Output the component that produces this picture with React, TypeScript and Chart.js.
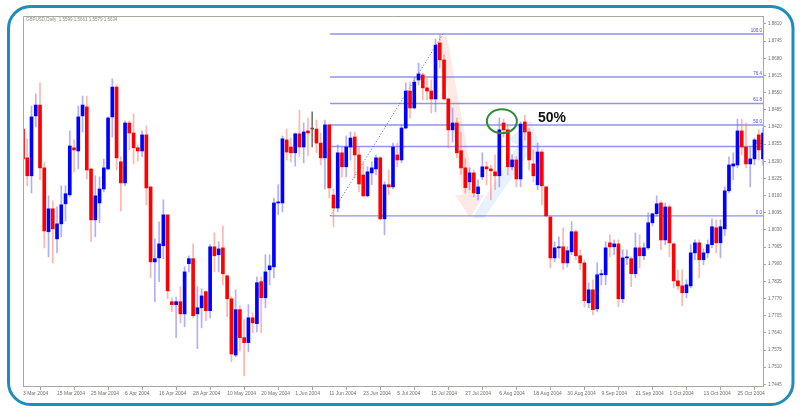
import React, { useEffect, useRef } from "react";
import { Chart, registerables } from "chart.js";
Chart.register(...registerables);

const OPEN = [1.8412,1.8303,1.8235,1.8462,1.8503,1.8265,1.8023,1.8110,1.7996,1.8053,1.8129,1.8163,1.8341,1.8329,1.8462,1.8496,1.8261,1.8068,1.8132,1.8185,1.8261,1.8458,1.8571,1.8288,1.8208,1.8435,1.8397,1.8341,1.8329,1.8390,1.8193,1.7909,1.7924,1.7970,1.8087,1.7758,1.7747,1.7758,1.7712,1.7902,1.7921,1.7712,1.7735,1.7796,1.7724,1.7966,1.7936,1.7962,1.7856,1.7769,1.7556,1.7728,1.7622,1.7603,1.7697,1.7675,1.7834,1.7773,1.7879,1.7890,1.8132,1.8132,1.8371,1.8344,1.8322,1.8394,1.8344,1.8405,1.8412,1.8412,1.8359,1.8303,1.8428,1.8162,1.8113,1.8322,1.8269,1.8344,1.8382,1.8314,1.8238,1.8159,1.8246,1.8261,1.8303,1.8072,1.8201,1.8193,1.8314,1.8295,1.8416,1.8556,1.8492,1.8598,1.8617,1.8568,1.8556,1.8526,1.8738,1.8674,1.8526,1.8409,1.8435,1.8330,1.8265,1.8212,1.8246,1.8167,1.8231,1.8269,1.8261,1.8250,1.8235,1.8435,1.8409,1.8269,1.8295,1.8223,1.8439,1.8401,1.8280,1.8201,1.8325,1.8193,1.8079,1.7924,1.7962,1.7966,1.7905,1.7947,1.8023,1.7932,1.7905,1.7754,1.7803,1.7731,1.7860,1.7860,1.7981,1.7966,1.7977,1.7769,1.7924,1.7921,1.7864,1.7962,1.7932,1.7962,1.8057,1.8091,1.8132,1.7992,1.8117,1.7977,1.7837,1.7818,1.7792,1.7818,1.7943,1.7981,1.7917,1.7943,1.7974,1.8038,1.7981,1.8034,1.8178,1.8272,1.8276,1.8405,1.8344,1.8280,1.8299,1.8390,1.8299];
const HIGH = [1.8412,1.8375,1.8499,1.8545,1.8587,1.8284,1.8159,1.8140,1.8117,1.8197,1.8197,1.8405,1.8371,1.8499,1.8537,1.8537,1.8261,1.8235,1.8231,1.8299,1.8458,1.8602,1.8579,1.8307,1.8443,1.8443,1.8469,1.8352,1.8405,1.8424,1.8193,1.7996,1.8061,1.8144,1.8087,1.7773,1.7776,1.7815,1.7890,1.7932,1.7977,1.7815,1.7807,1.7799,1.7974,1.8019,1.7985,1.8045,1.7860,1.7777,1.7803,1.7743,1.7690,1.7747,1.7716,1.7852,1.7852,1.7936,1.7936,1.8151,1.8201,1.8386,1.8412,1.8378,1.8397,1.8484,1.8435,1.8454,1.8477,1.8446,1.8397,1.8446,1.8431,1.8185,1.8352,1.8344,1.8386,1.8401,1.8401,1.8344,1.8284,1.8269,1.8288,1.8314,1.8307,1.8212,1.8257,1.8359,1.8359,1.8428,1.8587,1.8590,1.8609,1.8662,1.8624,1.8605,1.8598,1.8753,1.8772,1.8693,1.8530,1.8492,1.8454,1.8400,1.8300,1.8265,1.8257,1.8220,1.8322,1.8288,1.8276,1.8314,1.8454,1.8450,1.8428,1.8314,1.8307,1.8439,1.8465,1.8416,1.8333,1.8359,1.8333,1.8193,1.8083,1.7985,1.8004,1.8038,1.7966,1.8061,1.8030,1.7955,1.7917,1.7830,1.7841,1.7905,1.7879,1.7985,1.8011,1.7992,1.7992,1.7955,1.7955,1.7928,1.8019,1.8011,1.7981,1.8094,1.8094,1.8159,1.8140,1.8132,1.8125,1.7981,1.7879,1.7879,1.7841,1.7974,1.7992,1.7992,1.7958,1.7992,1.8072,1.8068,1.8068,1.8193,1.8307,1.8322,1.8450,1.8450,1.8435,1.8344,1.8378,1.8409,1.8416];
const LOW = [1.8155,1.8197,1.8170,1.8420,1.8220,1.7962,1.7928,1.7905,1.7943,1.8004,1.8064,1.8155,1.8250,1.8261,1.8401,1.8223,1.7985,1.8004,1.8057,1.8174,1.8257,1.8382,1.8257,1.8102,1.8197,1.8333,1.8280,1.8291,1.8307,1.8125,1.7849,1.7758,1.7834,1.7921,1.7769,1.7720,1.7622,1.7678,1.7663,1.7871,1.7697,1.7580,1.7659,1.7686,1.7697,1.7871,1.7871,1.7822,1.7701,1.7530,1.7549,1.7571,1.7477,1.7568,1.7641,1.7644,1.7641,1.7735,1.7822,1.7849,1.8087,1.8098,1.8295,1.8288,1.8272,1.8310,1.8284,1.8310,1.8344,1.8322,1.8276,1.8185,1.8151,1.8042,1.8098,1.8231,1.8231,1.8295,1.8227,1.8174,1.8155,1.8155,1.8201,1.8238,1.8068,1.8011,1.8163,1.8185,1.8269,1.8284,1.8412,1.8454,1.8488,1.8579,1.8522,1.8522,1.8473,1.8477,1.8643,1.8522,1.8341,1.8363,1.8303,1.8240,1.8170,1.8182,1.8155,1.8144,1.8220,1.8201,1.8144,1.8182,1.8193,1.8382,1.8238,1.8257,1.8193,1.8193,1.8371,1.8257,1.8212,1.8182,1.8125,1.8079,1.7886,1.7909,1.7924,1.7879,1.7890,1.7936,1.7917,1.7879,1.7739,1.7735,1.7709,1.7720,1.7822,1.7822,1.7928,1.7936,1.7739,1.7754,1.7898,1.7815,1.7849,1.7886,1.7917,1.7955,1.8045,1.8083,1.7955,1.7974,1.7928,1.7811,1.7803,1.7743,1.7773,1.7811,1.7917,1.7849,1.7898,1.7924,1.7962,1.7943,1.7924,1.8008,1.8170,1.8220,1.8265,1.8314,1.8265,1.8193,1.8276,1.8295,1.8276];
const CLOSE = [1.8299,1.8235,1.8458,1.8503,1.8265,1.8026,1.8110,1.8034,1.8053,1.8125,1.8167,1.8348,1.8333,1.8458,1.8503,1.8257,1.8068,1.8159,1.8185,1.8265,1.8454,1.8571,1.8303,1.8208,1.8435,1.8397,1.8341,1.8329,1.8390,1.8189,1.7909,1.7921,1.7977,1.8087,1.7799,1.7747,1.7758,1.7712,1.7871,1.7921,1.7705,1.7735,1.7780,1.7724,1.7966,1.7932,1.7958,1.7864,1.7769,1.7560,1.7728,1.7622,1.7603,1.7697,1.7678,1.7830,1.7773,1.7871,1.7894,1.8132,1.8136,1.8375,1.8325,1.8322,1.8394,1.8344,1.8401,1.8397,1.8412,1.8359,1.8303,1.8428,1.8189,1.8113,1.8322,1.8269,1.8344,1.8378,1.8314,1.8204,1.8159,1.8250,1.8265,1.8303,1.8072,1.8201,1.8193,1.8344,1.8295,1.8416,1.8556,1.8492,1.8590,1.8621,1.8568,1.8556,1.8526,1.8730,1.8674,1.8526,1.8409,1.8435,1.8322,1.8265,1.8190,1.8246,1.8170,1.8193,1.8269,1.8261,1.8254,1.8235,1.8409,1.8409,1.8269,1.8295,1.8223,1.8431,1.8401,1.8295,1.8235,1.8325,1.8197,1.8083,1.7924,1.7962,1.7966,1.7905,1.7951,1.8023,1.7932,1.7905,1.7762,1.7803,1.7728,1.7860,1.7864,1.7962,1.7966,1.7977,1.7769,1.7924,1.7928,1.7864,1.7962,1.7932,1.7962,1.8057,1.8091,1.8129,1.7992,1.8117,1.7981,1.7837,1.7818,1.7792,1.7822,1.7943,1.7981,1.7917,1.7943,1.7974,1.8042,1.7981,1.8042,1.8178,1.8276,1.8280,1.8405,1.8344,1.8280,1.8299,1.8371,1.8333,1.8397];

const TICK_LABELS = ["3 Mar 2004","15 Mar 2004","25 Mar 2004","6 Apr 2004","16 Apr 2004","28 Apr 2004","10 May 2004","20 May 2004","1 Jun 2004","11 Jun 2004","23 Jun 2004","5 Jul 2004","15 Jul 2004","27 Jul 2004","6 Aug 2004","18 Aug 2004","30 Aug 2004","9 Sep 2004","21 Sep 2004","1 Oct 2004","13 Oct 2004","25 Oct 2004"];
const Y_TICKS = [1.7445,1.7510,1.7575,1.7640,1.7705,1.7770,1.7835,1.7900,1.7965,1.8030,1.8095,1.8160,1.8225,1.8290,1.8355,1.8420,1.8485,1.8550,1.8615,1.8680,1.8745,1.8810];
const Y_MIN = 1.74387;
const Y_MAX = 1.88403;

const FIB_LEVELS = [0, 38.2, 50, 61.8, 76.4, 100];
const FIB_LABELS = ["0.0", "38.2", "50.0", "61.8", "76.4", "100.0"];
const FIB_LOW = 1.8083;
const FIB_HIGH = 1.8772;
const FIB_LOW_INDEX = 72.2;
const FIB_HIGH_INDEX = 98.75;

const TITLE = "GBPUSD,Daily  1.5599 1.5661 1.5579 1.5634";
const NOTE = "50%";

const BLUE = "#0000ff";
const RED = "#ff0000";

function bodyColor(i: number) {
  if (CLOSE[i] > OPEN[i]) return BLUE;
  if (CLOSE[i] < OPEN[i]) return RED;
  return "#555555";
}
function wickColor(i: number) {
  if (CLOSE[i] > OPEN[i]) return "rgba(110,110,255,0.55)";
  if (CLOSE[i] < OPEN[i]) return "rgba(255,110,90,0.5)";
  return "#777777";
}

const decor = {
  id: "decor",
  beforeDraw(chart: any) {
    const ctx = chart.ctx;
    ctx.save();
    ctx.fillStyle = "#ffffff";
    ctx.fillRect(0, 0, chart.width, chart.height);
    ctx.restore();
  },
  beforeDatasetsDraw(chart: any) {
    const ctx = chart.ctx;
    const xs = chart.scales.x;
    const ys = chart.scales.y;
    const a = chart.chartArea;
    const X = (i: number) => xs.getPixelForValue(i);
    const Y = (p: number) => ys.getPixelForValue(p);
    ctx.save();
    ctx.beginPath();
    ctx.rect(a.left, a.top, a.right - a.left, a.bottom - a.top);
    ctx.clip();
    // pink down arrow
    const pink: [number, number][] = [[98.0, 1.8765], [99.7, 1.8765], [106.4, 1.8162], [108.4, 1.8162], [105.1, 1.8075], [101.6, 1.8162], [103.3, 1.8162]];
    ctx.fillStyle = "rgba(240,120,100,0.16)";
    ctx.beginPath();
    pink.forEach(([i, p], k) => (k ? ctx.lineTo(X(i), Y(p)) : ctx.moveTo(X(i), Y(p))));
    ctx.closePath();
    ctx.fill();
    // blue up arrow
    const blue: [number, number][] = [[105.6, 1.8075], [108.4, 1.8075], [119.2, 1.8325], [122.3, 1.8302], [119.5, 1.8446], [114.0, 1.8371], [116.4, 1.8352]];
    ctx.fillStyle = "rgba(150,190,240,0.22)";
    ctx.beginPath();
    blue.forEach(([i, p], k) => (k ? ctx.lineTo(X(i), Y(p)) : ctx.moveTo(X(i), Y(p))));
    ctx.closePath();
    ctx.fill();
    // fib lines
    const x0 = X(FIB_LOW_INDEX);
    ctx.strokeStyle = "rgba(110,110,235,0.75)";
    ctx.lineWidth = 1.4;
    ctx.fillStyle = "#4a4ae0";
    ctx.font = "4.5px 'Liberation Sans', Arial, sans-serif";
    ctx.textAlign = "right";
    ctx.textBaseline = "bottom";
    FIB_LEVELS.forEach((lv, k) => {
      const y = Y(FIB_LOW + (FIB_HIGH - FIB_LOW) * lv / 100);
      ctx.beginPath();
      ctx.moveTo(x0, y);
      ctx.lineTo(a.right, y);
      ctx.stroke();
      ctx.fillText(FIB_LABELS[k], a.right - 1, y - 1);
    });
    // dotted trend line
    ctx.setLineDash([1, 2]);
    ctx.lineWidth = 1;
    ctx.strokeStyle = "#5a5ae8";
    ctx.beginPath();
    ctx.moveTo(X(FIB_LOW_INDEX), Y(FIB_LOW));
    ctx.lineTo(X(FIB_HIGH_INDEX), Y(FIB_HIGH));
    ctx.stroke();
    ctx.restore();
  },
  afterDraw(chart: any) {
    const ctx = chart.ctx;
    const xs = chart.scales.x;
    const ys = chart.scales.y;
    const a = chart.chartArea;
    const X = (i: number) => xs.getPixelForValue(i);
    const Y = (p: number) => ys.getPixelForValue(p);
    ctx.save();
    // frame
    ctx.strokeStyle = "#a8a8a0";
    ctx.lineWidth = 1;
    ctx.beginPath();
    ctx.moveTo(a.left + 0.5, a.bottom);
    ctx.lineTo(a.left + 0.5, a.top + 0.5);
    ctx.lineTo(a.right, a.top + 0.5);
    ctx.stroke();
    // ellipse
    ctx.strokeStyle = "#2f8a3a";
    ctx.lineWidth = 2;
    ctx.beginPath();
    ctx.ellipse(X(112.6), Y(1.8442), 15, 12, 0, 0, Math.PI * 2);
    ctx.stroke();
    // note
    ctx.fillStyle = "#111111";
    ctx.font = "bold 14px 'Liberation Sans', Arial, sans-serif";
    ctx.textAlign = "left";
    ctx.textBaseline = "alphabetic";
    ctx.fillText(NOTE, X(121.1), Y(1.8439));
    // title
    ctx.fillStyle = "#8a8a8a";
    ctx.font = "4.5px 'Liberation Sans', Arial, sans-serif";
    ctx.textBaseline = "middle";
    ctx.fillText(TITLE, a.left + 3, a.top + 4);
    // rounded border
    ctx.strokeStyle = "#1d8dbd";
    ctx.lineWidth = 3;
    ctx.beginPath();
    (ctx as any).roundRect(8.5, 6.5, 784.5, 398, 22);
    ctx.stroke();
    ctx.restore();
  },
};

export default function App() {
  const ref = useRef<HTMLCanvasElement | null>(null);
  useEffect(() => {
    document.body.style.margin = "0";
    if (!ref.current) return;
    const idx = OPEN.map((_, i) => i);
    const chart = new Chart(ref.current, {
      type: "bar",
      data: {
        labels: idx,
        datasets: [
          {
            data: LOW.map((l, i) => [l, HIGH[i]]) as any,
            backgroundColor: idx.map(wickColor),
            barThickness: 1,
            grouped: false,
            order: 2,
            borderWidth: 0,
          } as any,
          {
            data: OPEN.map((o, i) => [o, CLOSE[i]]) as any,
            backgroundColor: idx.map(bodyColor),
            barThickness: 3,
            grouped: false,
            order: 1,
            borderWidth: 0,
            minBarLength: 1,
          } as any,
        ],
      },
      options: {
        responsive: false,
        animation: false,
        devicePixelRatio: 1,
        layout: { padding: { left: 23, top: 16, right: 0, bottom: 0 } },
        plugins: { legend: { display: false }, tooltip: { enabled: false }, title: { display: false } },
        scales: {
          x: {
            type: "category",
            offset: false,
            grid: { display: true, drawOnChartArea: false, drawTicks: true, tickLength: 4, color: "#a8a8a0" },
            border: { display: true, color: "#a8a8a0" },
            ticks: {
              autoSkip: false,
              maxRotation: 0,
              minRotation: 0,
              align: "start",
              padding: 1,
              color: "#707070",
              font: { size: 5, family: "'Liberation Sans', Arial, sans-serif" },
              callback: (v: any) => TICK_LABELS[Number(v) / 8] ?? "",
            },
            afterBuildTicks: (scale: any) => {
              scale.ticks = scale.ticks.filter((t: any) => t.value % 8 === 0);
            },
            afterFit: (scale: any) => {
              scale.height = 26;
            },
          },
          y: {
            type: "linear",
            position: "right",
            min: Y_MIN,
            max: Y_MAX,
            grid: { display: true, drawOnChartArea: false, drawTicks: true, tickLength: 3, color: "#a8a8a0" },
            border: { display: true, color: "#a8a8a0" },
            ticks: {
              padding: 2,
              color: "#707070",
              font: { size: 4.5, family: "'Liberation Sans', Arial, sans-serif" },
              callback: (v: any) => Number(v).toFixed(4),
            },
            afterBuildTicks: (scale: any) => {
              scale.ticks = Y_TICKS.map((v) => ({ value: v }));
            },
            afterFit: (scale: any) => {
              scale.width = 37;
            },
          },
        },
      } as any,
      plugins: [decor],
    });
    return () => chart.destroy();
  }, []);
  return (
    <div style={{ width: 800, height: 412 }}>
      <canvas ref={ref} width={800} height={412} style={{ display: "block" }} />
    </div>
  );
}
